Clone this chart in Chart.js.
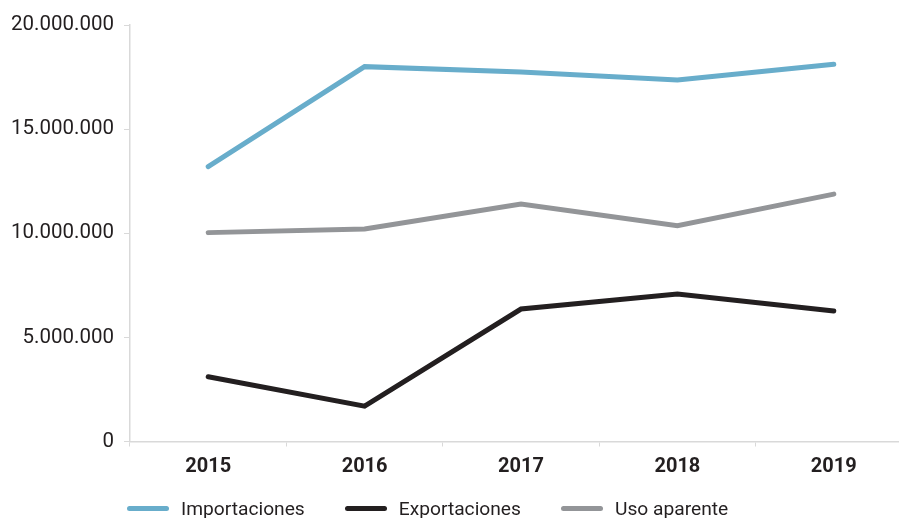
<!DOCTYPE html>
<html lang="es">
<head>
<meta charset="utf-8">
<title>Importaciones, exportaciones y uso aparente</title>
<script src="https://cdn.jsdelivr.net/npm/chart.js@4.4.1/dist/chart.umd.min.js"></script>
<style>
  html, body { margin: 0; padding: 0; background: #fff; overflow: hidden; }
  #wrap { position: relative; width: 912px; height: 518px; }
  #legend {
    position: absolute; left: 127px; top: 497px;
    display: flex; align-items: center;
    font-family: Roboto, sans-serif; font-size: 19.2px; color: #231f20;
  }
  #legend .item { display: flex; align-items: center; margin-right: 40px; }
  #legend .swatch { width: 42px; height: 5px; border-radius: 3px; margin-right: 12px; }
</style>
</head>
<body>
<div id="wrap">
  <canvas id="chart" width="912" height="518"></canvas>
  <div id="legend"></div>
</div>
<script>
const years = ["2015", "2016", "2017", "2018", "2019"];
const importaciones = [13200000, 18000000, 17740000, 17360000, 18110000];
const exportaciones = [3110000, 1700000, 6360000, 7080000, 6270000];
const usoAparente = [10030000, 10200000, 11400000, 10360000, 11880000];
const yTicks = [0, 5000000, 10000000, 15000000, 20000000];

const series = [
  { label: "Importaciones", data: importaciones, color: "#68adcb" },
  { label: "Exportaciones", data: exportaciones, color: "#231f20" },
  { label: "Uso aparente", data: usoAparente, color: "#939598" },
];

const axisGrey = "#d9d9d9";
const textColor = "#231f20";

const fmt = v => v.toLocaleString("de-DE");

new Chart(document.getElementById("chart"), {
  type: "line",
  data: {
    labels: years,
    datasets: series.map(s => ({
      label: s.label,
      data: s.data,
      borderColor: s.color,
      backgroundColor: s.color,
      borderWidth: 5,
      borderCapStyle: "round",
      pointRadius: 0,
      tension: 0,
    })),
  },
  options: {
    responsive: false,
    animation: false,
    layout: { padding: { top: 25, bottom: 36.5, left: 0, right: 0 } },
    plugins: {
      legend: { display: false },
      tooltip: { enabled: false },
    },
    scales: {
      x: {
        offset: true,
        grid: {
          offset: true,
          drawOnChartArea: false,
          tickLength: 5,
          color: axisGrey,
        },
        border: { color: axisGrey, width: 1.5 },
        ticks: {
          color: textColor,
          padding: 8,
          font: { family: "Roboto", size: 20, weight: "bold" },
        },
        afterFit(axis) { axis.height = 40; },
      },
      y: {
        min: 0,
        max: 20000000,
        afterBuildTicks(axis) { axis.ticks = yTicks.map(v => ({ value: v })); },
        grid: {
          drawOnChartArea: false,
          tickLength: 6,
          color: axisGrey,
        },
        border: { color: axisGrey, width: 1.5 },
        ticks: {
          color: textColor,
          padding: 10,
          font: { family: "Roboto", size: 20.5 },
          callback: v => fmt(v),
        },
        afterFit(axis) { axis.width = 130; },
      },
    },
  },
});

// legend row under the axis
const legend = document.getElementById("legend");
series.forEach(s => {
  const item = document.createElement("div");
  item.className = "item";
  const sw = document.createElement("span");
  sw.className = "swatch";
  sw.style.background = s.color;
  const txt = document.createElement("span");
  txt.textContent = s.label;
  item.appendChild(sw);
  item.appendChild(txt);
  legend.appendChild(item);
});
</script>
</body>
</html>
